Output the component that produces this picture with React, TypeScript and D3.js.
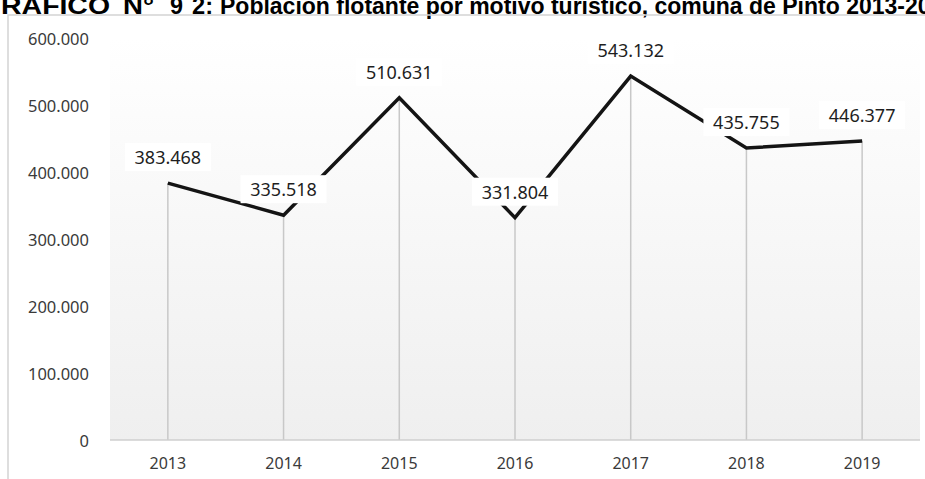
import * as d3 from "d3";

/* ------------------------------------------------------------------ */
/*  Data                                                              */
/* ------------------------------------------------------------------ */

const years = ["2013", "2014", "2015", "2016", "2017", "2018", "2019"];
const visitors = [383468, 335518, 510631, 331804, 543132, 435755, 446377];
const yTicks = [0, 100000, 200000, 300000, 400000, 500000, 600000];

const titlePrefix = ["GRÁFICO", "N°", "9", "2:"];
const titleText = "Población flotante por motivo turístico, comuna de Pinto 2013-2019";

/* ------------------------------------------------------------------ */
/*  Layout                                                            */
/* ------------------------------------------------------------------ */

const width = 925;
const height = 479;
const plot = { left: 110, right: 920, top: 38, bottom: 440 };

const locale = d3.formatLocale({
  decimal: ",",
  thousands: ".",
  grouping: [3],
  currency: ["", ""],
});
const fmt = locale.format(",");

const font = "'Noto Sans', 'Open Sans', sans-serif";
const titleFont = "'Liberation Sans', Arial, sans-serif";

export default function App() {
  const x = d3
    .scaleBand<string>()
    .domain(years)
    .range([plot.left, plot.right]);
  const y = d3.scaleLinear().domain([0, 600000]).range([plot.bottom, plot.top]);

  const cx = (yr: string) => (x(yr) ?? 0) + x.bandwidth() / 2;
  const pts = years.map((yr, i) => ({ yr, v: visitors[i] }));

  const line = d3
    .line<{ yr: string; v: number }>()
    .x((d) => cx(d.yr))
    .y((d) => y(d.v));

  // leading words of the title: [x, stretched length]; spacing in the source is uneven
  const prefixPos: [number, number][] = [
    [-21, 131],
    [123, 31],
    [170, 13],
    [192, 21],
  ];

  return (
    <>
      <style>{`body{margin:0}`}</style>
      <svg width={width} height={height} style={{ display: "block", background: "#fff" }}>
        <defs>
          <linearGradient id="plotBg" x1="0" y1="0" x2="0" y2="1">
            <stop offset="0%" stopColor="#ffffff" />
            <stop offset="100%" stopColor="#efefef" />
          </linearGradient>
        </defs>

        {/* Title (clipped by the top of the image, as in the source) */}
        <g fontFamily={titleFont} fontWeight={700} fontSize={23} fill="#000">
          {titlePrefix.map((w, i) => (
            <text
              key={w}
              x={prefixPos[i][0]}
              y={13.5}
              textLength={prefixPos[i][1]}
              lengthAdjust="spacingAndGlyphs"
            >
              {w}
            </text>
          ))}
          <text x={220} y={13.5}>
            {titleText}
          </text>
        </g>

        {/* Chart frame */}
        <rect
          x={8}
          y={15}
          width={width + 20}
          height={height + 20}
          fill="none"
          stroke="#d4d4d4"
          strokeWidth={1.5}
        />

        {/* Plot background */}
        <rect
          x={plot.left}
          y={plot.top}
          width={plot.right - plot.left}
          height={plot.bottom - plot.top}
          fill="url(#plotBg)"
        />

        {/* Y labels */}
        {yTicks.map((t) => (
          <text
            key={t}
            x={89}
            y={y(t)}
            textAnchor="end"
            dominantBaseline="central"
            fontFamily={font}
            fontSize={16.5}
            fill="#3a3a3a"
          >
            {fmt(t)}
          </text>
        ))}

        {/* Drop lines */}
        {pts.map((d) => (
          <line
            key={`drop-${d.yr}`}
            x1={cx(d.yr)}
            x2={cx(d.yr)}
            y1={y(d.v)}
            y2={y(0)}
            stroke="#c8c8c8"
            strokeWidth={1.5}
          />
        ))}

        {/* X axis */}
        <line
          x1={plot.left}
          x2={plot.right}
          y1={y(0)}
          y2={y(0)}
          stroke="#cfcfcf"
          strokeWidth={1.5}
        />
        {years.map((yr) => (
          <text
            key={yr}
            x={cx(yr)}
            y={463}
            textAnchor="middle"
            dominantBaseline="central"
            fontFamily={font}
            fontSize={16}
            fill="#3a3a3a"
          >
            {yr}
          </text>
        ))}

        {/* Series line */}
        <path
          d={line(pts) ?? ""}
          fill="none"
          stroke="#141414"
          strokeWidth={3.5}
          strokeLinejoin="miter"
        />

        {/* Data labels with white boxes */}
        {pts.map((d) => {
          const lx = cx(d.yr);
          const ly = y(d.v) - 26;
          return (
            <g key={`lab-${d.yr}`}>
              <rect x={lx - 43} y={ly - 14} width={86} height={28} fill="#fff" />
              <text
                x={lx}
                y={ly}
                textAnchor="middle"
                dominantBaseline="central"
                fontFamily={font}
                fontSize={18}
                fill="#1e1e1e"
              >
                {fmt(d.v)}
              </text>
            </g>
          );
        })}
      </svg>
    </>
  );
}
